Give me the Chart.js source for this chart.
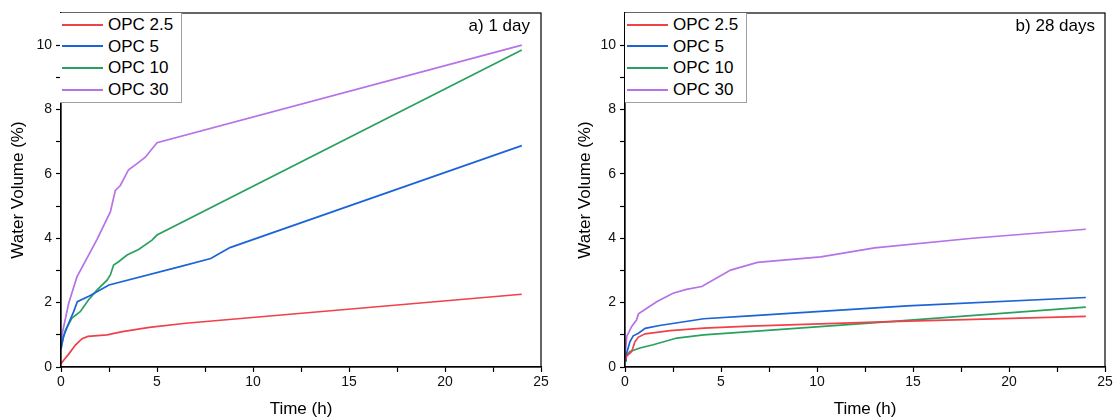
<!DOCTYPE html>
<html>
<head>
<meta charset="utf-8">
<script src="https://cdn.jsdelivr.net/npm/chart.js@4.4.0/dist/chart.umd.min.js"></script>
<style>
  body { margin: 0; background: #fff; font-family: Arial, "Liberation Sans", sans-serif; }
  #wrap { position: relative; width: 1118px; height: 420px; }
  canvas { position: absolute; top: 0; }
  .legend { position: absolute; top: 13px; width: 121px; height: 89px; border: 1px solid #a0a0a0; border-left: none; border-top: none; background: #fff; }
  .legend div { position: absolute; left: 0; height: 20px; font-size: 17px; line-height: 20px; color: #000; white-space: nowrap; }
  .legend span { display: inline-block; width: 41px; height: 2px; margin: 0 5px 0 2px; vertical-align: middle; position: relative; top: -1px; }
  .tag { position: absolute; top: 16px; font-size: 17px; color: #000; }
</style>
</head>
<body>
<div id="wrap">
  <canvas id="c1" width="559" height="420" style="left:0"></canvas>
  <canvas id="c2" width="559" height="420" style="left:559px"></canvas>
  <div class="legend" id="leg1" style="left:60px"></div>
  <div class="legend" id="leg2" style="left:625px"></div>
  <div class="tag" style="right:588px">a) 1 day</div>
  <div class="tag" style="right:23px">b) 28 days</div>
</div>
<script>
const seriesNames = ['OPC 2.5', 'OPC 5', 'OPC 10', 'OPC 30'];
const seriesColors = ['#f0414a', '#1a64d8', '#2aa060', '#b672e8'];

// a) 1 day
const t1_opc25 = [0, 0.15, 0.4, 0.75, 1.1, 1.4, 2.4, 3.2, 4.6, 6.5, 24];
const v1_opc25 = [0.1, 0.22, 0.4, 0.68, 0.88, 0.95, 1.0, 1.1, 1.23, 1.36, 2.26];
const t1_opc5 = [0, 0.13, 0.4, 0.66, 0.85, 1.45, 2.5, 6.2, 7.8, 8.8, 24];
const v1_opc5 = [0.55, 0.95, 1.36, 1.72, 2.03, 2.2, 2.55, 3.12, 3.37, 3.71, 6.88];
const t1_opc10 = [0, 0.23, 0.57, 1.0, 1.43, 1.87, 2.4, 2.57, 2.74, 3.0, 3.44, 4.04, 4.74, 5.0, 24];
const v1_opc10 = [0.64, 1.15, 1.52, 1.72, 2.08, 2.39, 2.7, 2.86, 3.17, 3.27, 3.48, 3.65, 3.94, 4.1, 9.85];
const t1_opc30 = [0, 0.05, 0.4, 0.83, 1.87, 2.57, 2.83, 3.09, 3.52, 3.96, 4.39, 5.0, 24];
const v1_opc30 = [0.75, 1.0, 1.98, 2.8, 3.96, 4.82, 5.49, 5.64, 6.13, 6.32, 6.52, 6.97, 10.0];

// b) 28 days
const t28_opc25 = [0, 0.1, 0.35, 0.52, 0.7, 1.05, 2.35, 4.1, 6.5, 13.8, 24];
const v28_opc25 = [0.2, 0.35, 0.48, 0.79, 0.93, 1.03, 1.13, 1.21, 1.27, 1.41, 1.57];
const t28_opc5 = [0, 0.05, 0.26, 0.43, 0.7, 1.05, 1.8, 4.1, 6.5, 14.7, 24];
const v28_opc5 = [0.2, 0.35, 0.79, 0.97, 1.05, 1.2, 1.29, 1.5, 1.59, 1.9, 2.16];
const t28_opc10 = [0, 0.05, 0.26, 0.78, 1.47, 2.7, 4.1, 6.5, 13.8, 24];
const v28_opc10 = [0.2, 0.33, 0.48, 0.59, 0.69, 0.9, 1.0, 1.1, 1.41, 1.86];
const t28_opc30 = [0, 0.09, 0.35, 0.6, 0.7, 1.65, 2.5, 3.2, 4.0, 5.5, 6.9, 10.2, 13, 18.1, 24];
const v28_opc30 = [0.3, 0.95, 1.26, 1.46, 1.65, 2.03, 2.29, 2.41, 2.5, 3.01, 3.25, 3.42, 3.7, 4.0, 4.28];

const xTicks = [0, 5, 10, 15, 20, 25];
const yTicks = [0, 2, 4, 6, 8, 10];

function pts(t, v) { return t.map((x, i) => ({ x: x, y: v[i] })); }

function makeDatasets(list) {
  return list.map((s, i) => ({
    label: seriesNames[i],
    data: pts(s[0], s[1]),
    borderColor: seriesColors[i],
    backgroundColor: seriesColors[i],
    borderWidth: 1.7,
    pointRadius: 0,
    tension: 0
  }));
}

// box round the plot area (top and right sides)
const frame = {
  id: 'frame',
  afterDatasetsDraw(chart) {
    const a = chart.chartArea, c = chart.ctx;
    c.save();
    c.strokeStyle = '#000';
    c.lineWidth = 1.2;
    c.strokeRect(a.left, a.top, a.right - a.left, a.bottom - a.top);
    c.restore();
  }
};

function makeChart(id, datasets, yWidth, padRight, titlePad) {
  new Chart(document.getElementById(id), {
    type: 'line',
    data: { datasets: datasets },
    plugins: [frame],
    options: {
      responsive: false,
      animation: false,
      layout: { padding: { top: 13, right: padRight, left: 0, bottom: 0 } },
      plugins: { legend: { display: false }, tooltip: { enabled: false } },
      scales: {
        x: {
          type: 'linear', min: 0, max: 25,
          afterFit(s) { s.height = 53; },
          ticks: {
            stepSize: 2.5, padding: 2, color: '#111', maxRotation: 0,
            font: { family: 'Arial', size: 14 },
            callback: v => xTicks.includes(v) ? String(v) : ''
          },
          grid: { drawOnChartArea: false, tickLength: 5, tickColor: '#000', tickWidth: 1.2 },
          border: { color: '#000', width: 1.2 },
          title: { display: true, text: 'Time (h)', color: '#000', font: { family: 'Arial', size: 17 }, padding: { top: 0, bottom: 0 } }
        },
        y: {
          type: 'linear', min: 0, max: 11,
          afterFit(s) { s.width = yWidth; },
          afterBuildTicks(s) { s.ticks = s.ticks.filter(t => t.value <= 10); },
          ticks: {
            stepSize: 1, padding: 4, color: '#111',
            font: { family: 'Arial', size: 14 },
            callback: v => yTicks.includes(v) ? String(v) : ''
          },
          grid: { drawOnChartArea: false, tickLength: 5, tickColor: '#000', tickWidth: 1.2 },
          border: { color: '#000', width: 1.2 },
          title: { display: true, text: 'Water Volume (%)', color: '#000', font: { family: 'Arial', size: 17 }, padding: { top: titlePad, bottom: 0 } }
        }
      }
    }
  });
}

makeChart('c1', makeDatasets([[t1_opc25, v1_opc25], [t1_opc5, v1_opc5], [t1_opc10, v1_opc10], [t1_opc30, v1_opc30]]), 61, 18, 8);
makeChart('c2', makeDatasets([[t28_opc25, v28_opc25], [t28_opc5, v28_opc5], [t28_opc10, v28_opc10], [t28_opc30, v28_opc30]]), 66, 13, 16);

// legends
['leg1', 'leg2'].forEach(id => {
  const box = document.getElementById(id);
  seriesNames.forEach((n, i) => {
    const row = document.createElement('div');
    row.style.top = (2 + i * 21.7) + 'px';
    row.innerHTML = '<span style="background:' + seriesColors[i] + '"></span>' + n;
    box.appendChild(row);
  });
});
</script>
</body>
</html>
